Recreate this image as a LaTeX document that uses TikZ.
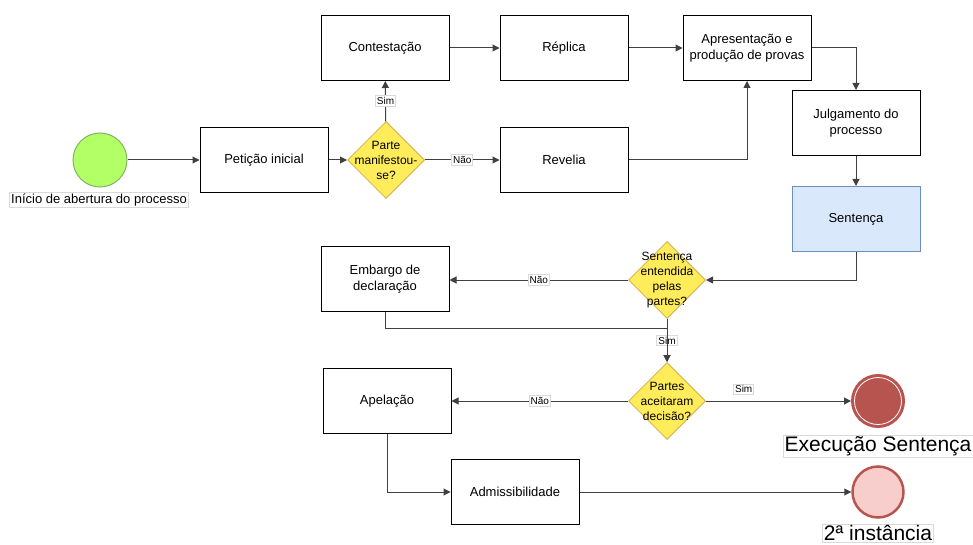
\documentclass[tikz,border=0pt]{standalone}
\usepackage{fontspec}
\setmainfont{Liberation Sans}
\usetikzlibrary{shapes.geometric,arrows.meta}
\definecolor{startfill}{RGB}{179,255,102}
\definecolor{startline}{RGB}{130,179,102}
\definecolor{yelfill}{RGB}{255,236,90}
\definecolor{yelline}{RGB}{214,182,86}
\definecolor{bluefill}{RGB}{218,232,252}
\definecolor{blueline}{RGB}{108,142,191}
\definecolor{redfill}{RGB}{184,84,80}
\definecolor{pinkfill}{RGB}{248,206,204}
\tikzset{
  box/.style={draw,line width=1pt,minimum width=128pt,minimum height=65pt,inner sep=0pt,align=center,font=\fontsize{13}{16}\selectfont},
  decision/.style={diamond,draw=yelline,fill=yelfill,line width=1pt,minimum width=77pt,minimum height=77pt,inner sep=0pt},
  flow/.style={draw=black!75,line width=1pt,-{Triangle[length=7pt,width=7pt]}},
  tag/.style={draw=gray!30,fill=white,inner sep=1.5pt,font=\fontsize{10}{12}\selectfont}
}
\begin{document}
\begin{tikzpicture}[x=1pt,y=-1pt,every node/.style={font=\fontsize{12}{15}\selectfont}]
\useasboundingbox (0,0) rectangle (973,545);

% start
\node[circle,draw=startline,fill=startfill,line width=1pt,minimum size=54pt] (inicio) at (100,160) {};
\node[tag,font=\fontsize{13}{15}\selectfont] (iniciotxt) at (99,200) {Início de abertura do processo};

% boxes
\node[box] (peticao) at (264,160) {Petição inicial};
\node[decision,label={[align=center]center:Parte\\manifestou-\\se?}] (manif) at (386,160) {};
\node[box] (contest) at (385,48) {Contestação};
\node[box] (replica) at (564,48) {Réplica};
\node[box] (provas) at (747,48) {Apresentação e\\produção de provas};
\node[box] (revelia) at (564,160) {Revelia};
\node[box] (julg) at (856,123) {Julgamento do\\processo};
\node[box,draw=blueline,fill=bluefill] (sent) at (856,219) {Sentença};
\node[decision,label={[align=center]center:Sentença\\entendida\\pelas\\partes?}] (entend) at (667,280) {};
\node[box] (embargo) at (385,279) {Embargo de\\declaração};
\node[decision,label={[align=center]center:Partes\\aceitaram\\decisão?}] (aceit) at (667,401) {};
\node[box] (apel) at (387,401) {Apelação};
\node[box] (admis) at (515,492) {Admissibilidade};

% ends
\node[circle,draw=redfill,fill=redfill,line width=2pt,minimum size=52pt] (execucao) at (878,401) {};
\draw[white,line width=0.8pt] (execucao) circle (23.5pt);
\node[tag,font=\fontsize{21}{25}\selectfont] (execucaotxt) at (878,446) {Execução Sentença};
\node[circle,draw=redfill,fill=pinkfill,line width=2.5pt,minimum size=51pt] (instancia) at (878,492) {};
\node[tag,font=\fontsize{21}{25}\selectfont] (instanciatxt) at (878,533) {2ª instância};

% connectors
\draw[flow] (inicio) -- (peticao);
\draw[flow] (peticao) -- (manif);
\draw[flow] (manif) -- node[tag]{Sim} (contest);
\draw[flow] (manif) -- node[tag]{Não} (revelia);
\draw[flow] (contest) -- (replica);
\draw[flow] (replica) -- (provas);
\draw[flow] (revelia) -| (provas);
\draw[flow] (provas) -| (julg);
\draw[flow] (julg) -- (sent);
\draw[flow] (sent) |- (entend);
\draw[flow] (entend) -- node[tag]{Não} (entend -| embargo.east);
\draw[flow] (entend) -- node[tag]{Sim} (aceit);
\draw[flow] (embargo.south) -- ++(0,16) -| (aceit.north);
\draw[flow] (aceit) -- node[tag]{Não} (apel);
\draw[flow] (aceit) -- node[tag,pos=0.26,above=6pt]{Sim} (execucao);
\draw[flow] (apel) |- (admis);
\draw[flow] (admis) -- (instancia);
\end{tikzpicture}
\end{document}
